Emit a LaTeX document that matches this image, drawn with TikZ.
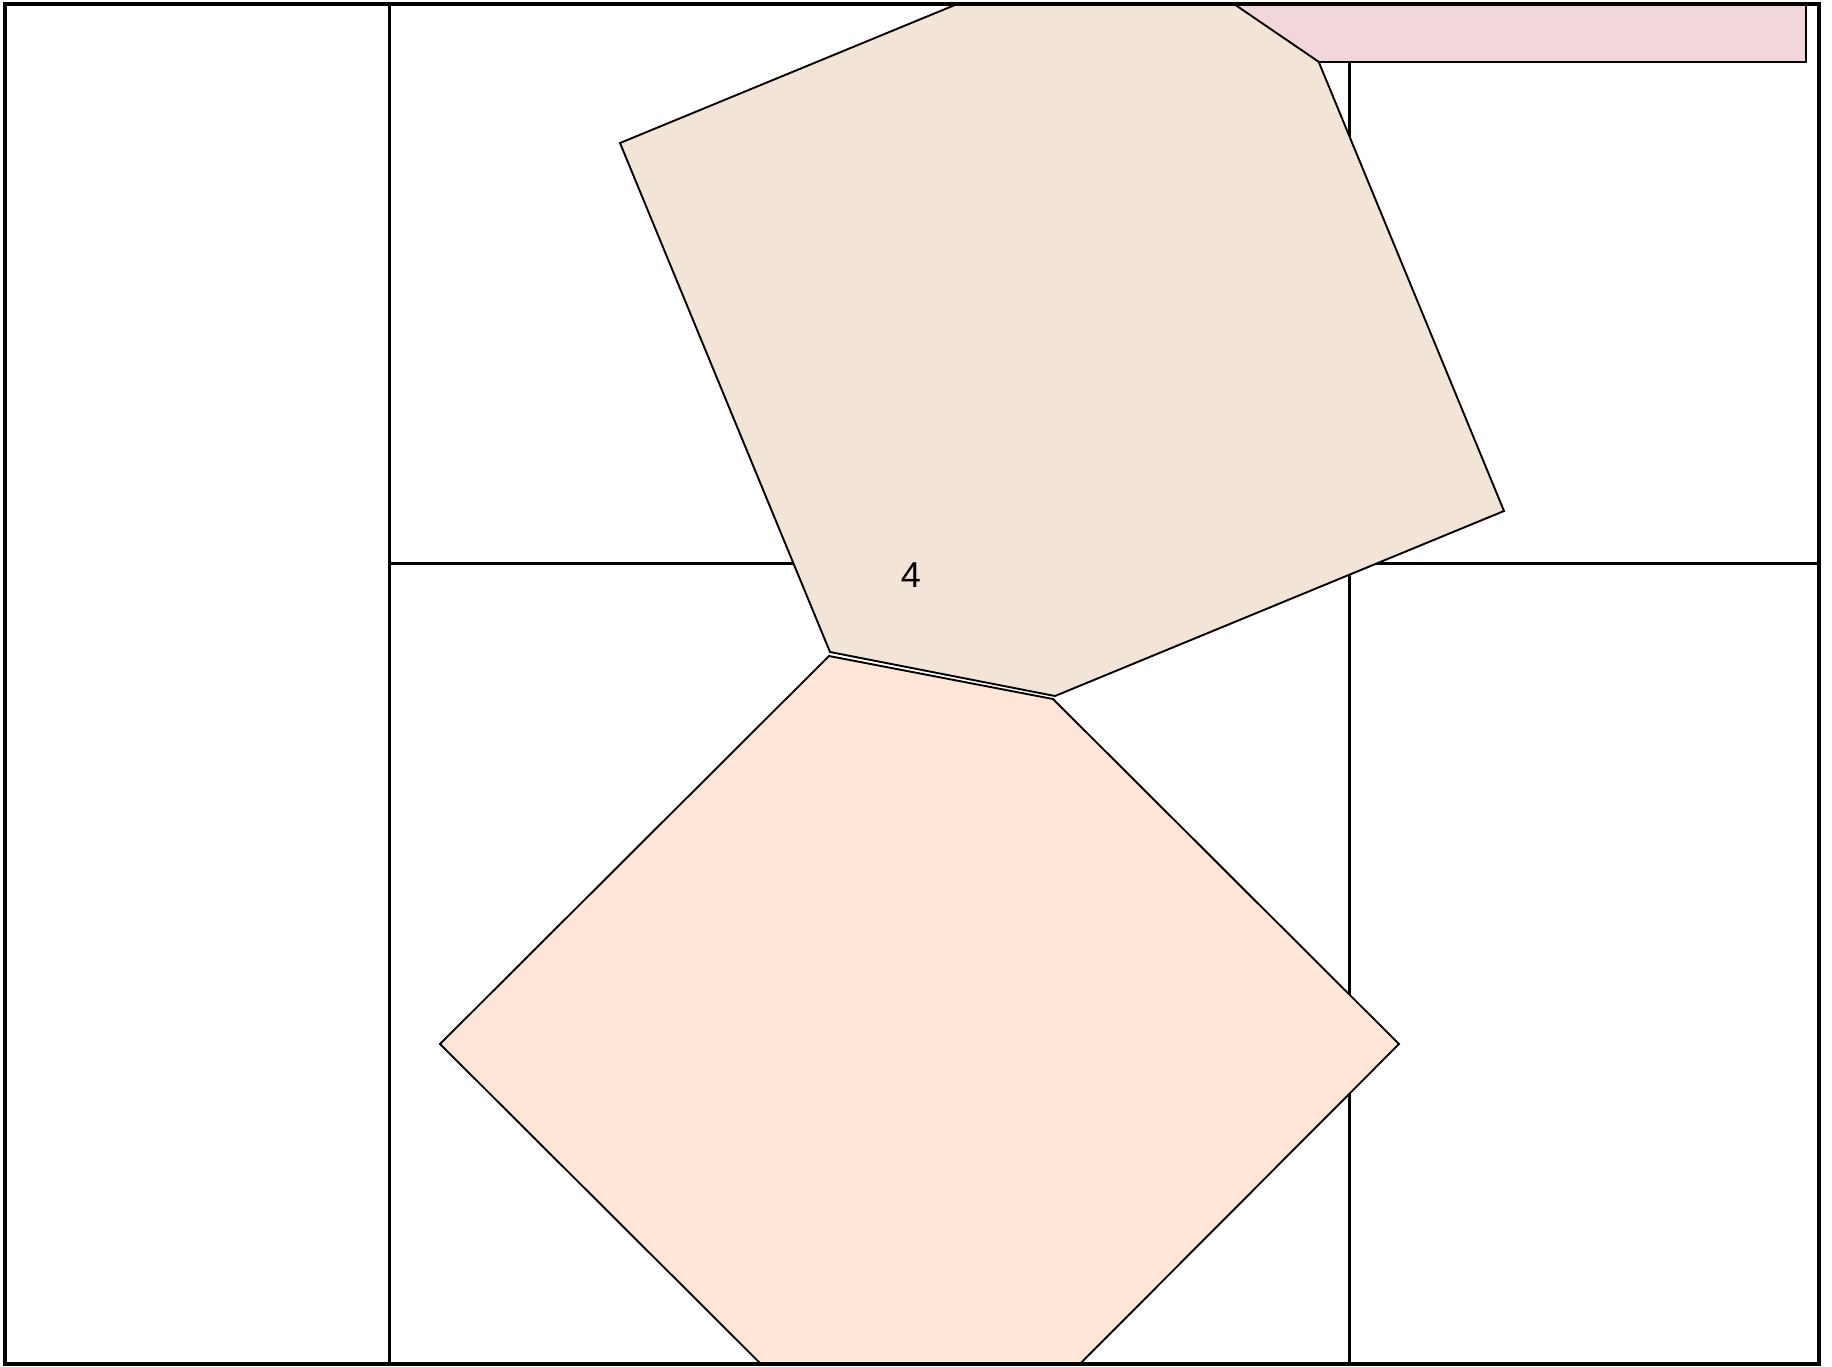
\documentclass[tikz,border=0pt]{standalone}
\usepackage{fontspec}
\setmainfont{Liberation Sans}
\definecolor{hexA}{RGB}{243,228,216}
\definecolor{hexB}{RGB}{255,230,214}
\definecolor{pinkbar}{RGB}{242,215,218}
\begin{document}
\begin{tikzpicture}[x=0.5pt,y=-0.5pt,
  edge/.style={draw=black,line width=0.95pt,line join=miter},
  gridline/.style={draw=black,line width=1.5pt},
  framebox/.style={draw=black,line width=1.7pt}]
\useasboundingbox (0,0) rectangle (1832,1366);
\fill[white] (0,0) rectangle (1832,1366);
% grid lines (under the shapes)
\draw[gridline] (389,4) -- (389,1364);
\draw[gridline] (389,563) -- (1819,563);
\draw[gridline] (1349,4) -- (1349,1364);
\begin{scope}
  \clip (5,4) rectangle (1819,1364);
  % upper hexagon
  \filldraw[edge, fill=hexA] (620,143) -- (1069,-42) -- (1294,2) -- (1504,511) -- (1055,696) -- (830,652) -- cycle;
  % pink bar
  \filldraw[edge, fill=pinkbar] (1234,4) -- (1806,4) -- (1806,62) -- (1319,62) -- cycle;
  % lower hexagon
  \filldraw[edge, fill=hexB] (829,656) -- (1053,699) -- (1399,1044) -- (1011,1433) -- (787,1390) -- (440,1044) -- cycle;
\end{scope}
\node (lbl) at (911,575) {\fontsize{18}{20}\selectfont 4};
\draw[framebox] (5,4) rectangle (1819,1364);
\end{tikzpicture}
\end{document}
